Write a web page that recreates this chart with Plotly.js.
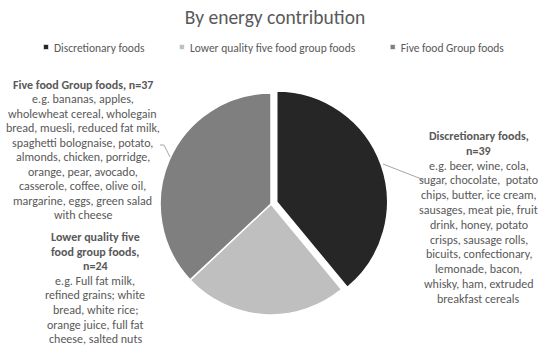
<!DOCTYPE html>
<html>
<head>
<meta charset="utf-8">
<script src="https://cdn.plot.ly/plotly-3.0.1.min.js"></script>
<style>
html,body{margin:0;padding:0;background:#fff;}
#chart{width:550px;height:348px;}
#chart .legendpie{transform:translate(32px,0px) scale(0.42);}
</style>
</head>
<body>
<div id="chart"></div>
<script>
// ---- data ----
const categories = ["Discretionary foods", "Lower quality five food group foods", "Five food Group foods"];
const counts = [39, 24, 37];
const sliceColors = ["#262626", "#bfbfbf", "#7f7f7f"];
const pulls = [0.055, 0, 0];
const chartTitle = "By energy contribution";
// label text lines (bold header lines first)
const headDiscretionary = ["Discretionary foods,", "n=39"];
const bodyDiscretionary = ["e.g. beer, wine, cola,", "sugar, chocolate,  potato", "chips, butter, ice cream,",
  "sausages, meat pie, fruit", "drink, honey, potato", "crisps, sausage rolls,", "bicuits, confectionary,",
  "lemonade, bacon,", "whisky, ham, extruded", "breakfast cereals"];
const headLower = ["Lower quality five", "food group foods,", "n=24"];
const bodyLower = ["e.g. Full fat milk,", "refined grains; white", "bread, white rice;",
  "orange juice, full fat", "cheese, salted nuts"];
const headFive = ["Five food Group foods, n=37"];
const bodyFive = ["e.g. bananas, apples,", "wholewheat cereal, wholegain", "bread, muesli, reduced fat milk,",
  "spaghetti bolognaise, potato,", "almonds, chicken, porridge,", "orange, pear, avocado,",
  "casserole, coffee, olive oil,", "margarine, eggs, green salad", "with cheese"];

// ---- layout helpers (pixel -> paper) ----
const W = 550, H = 348;
const px = x => x / W;
const py = y => 1 - y / H;
const FONT = "Carlito, Lato, sans-serif";
const TXT = "#595959";
const annFont = { family: FONT, size: 12, color: TXT };

function labelBlock(head, body, cx, y0, step) {
  const lines = head.map(t => "<b>" + t + "</b>").concat(body);
  return lines.map((t, i) => ({
    xref: "paper", yref: "paper", x: px(cx), y: py(y0 + i * step),
    xanchor: "center", yanchor: "middle", text: t, showarrow: false,
    align: "center", font: annFont
  }));
}

const trace = {
  type: "pie",
  labels: categories,
  values: counts,
  sort: false,
  direction: "clockwise",
  rotation: 0,
  pull: pulls,
  marker: { colors: sliceColors, line: { color: "#ffffff", width: 1.5 } },
  textinfo: "none",
  hoverinfo: "label+value",
  domain: { x: [px(154), px(388)], y: [py(321), py(87)] }
};

const layout = {
  width: W, height: H,
  margin: { l: 0, r: 0, t: 0, b: 0 },
  paper_bgcolor: "#ffffff",
  font: { family: FONT, color: TXT },
  title: { text: chartTitle, x: 0.5, xanchor: "center", y: py(17), yanchor: "middle",
           font: { family: FONT, size: 19.5, color: TXT } },
  showlegend: true,
  legend: { orientation: "h", x: px(262), xanchor: "center", y: py(47), yanchor: "middle",
            font: { family: FONT, size: 11.5, color: TXT }, traceorder: "normal" },
  annotations: [].concat(
    labelBlock(headDiscretionary, bodyDiscretionary, 479, 136, 14.8),
    labelBlock(headLower, bodyLower, 95, 237, 14.6),
    labelBlock(headFive, bodyFive, 82.5, 85, 14.45)
  ),
  shapes: [
    { type: "path", xref: "paper", yref: "paper",
      path: `M ${px(383)} ${py(164)} L ${px(424)} ${py(180)}`,
      line: { color: "#a6a6a6", width: 1 } },
    { type: "path", xref: "paper", yref: "paper",
      path: `M ${px(160)} ${py(145)} L ${px(164)} ${py(145)} L ${px(170)} ${py(157)}`,
      line: { color: "#a6a6a6", width: 1 } }
  ]
};

Plotly.newPlot("chart", [trace], layout, { staticPlot: true, displayModeBar: false });
</script>
</body>
</html>
